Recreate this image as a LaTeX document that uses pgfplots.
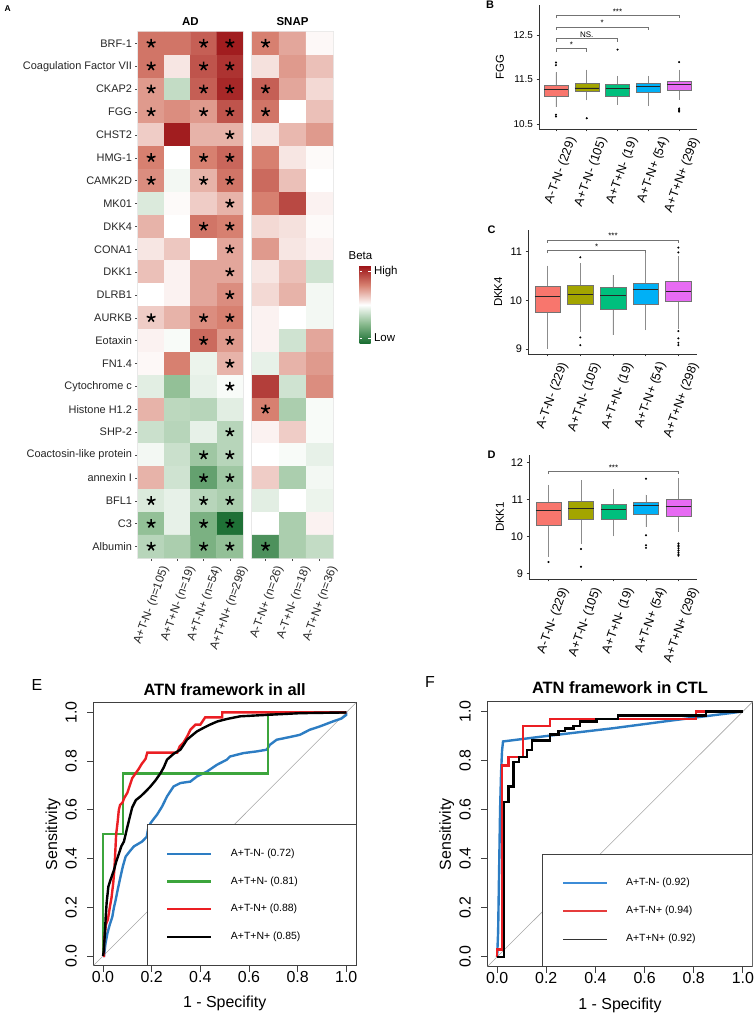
\documentclass[border=0pt]{standalone}
\usepackage{fontspec}
\setmainfont{Liberation Sans}
\usepackage{pgfplots}
\pgfplotsset{compat=1.18}
\usepgfplotslibrary{statistics}
\usetikzlibrary{plotmarks,calc}
\newcommand\fs[1]{\fontsize{#1}{#1}\selectfont}
\definecolor{gA}{HTML}{F8766D}
\definecolor{gB}{HTML}{A3A500}
\definecolor{gC}{HTML}{00BF7D}
\definecolor{gD}{HTML}{00B0F6}
\definecolor{gE}{HTML}{E76BF3}
\definecolor{rblue}{RGB}{45,125,195}
\definecolor{rgreen}{RGB}{60,165,60}
\definecolor{rred}{RGB}{235,30,35}
\definecolor{lblue}{RGB}{60,140,215}
\definecolor{lred}{RGB}{230,60,60}
\pgfplotsset{
  colormap={beta}{rgb255(0cm)=(20,105,45); rgb255(1cm)=(135,185,140); rgb255(2cm)=(255,255,255); rgb255(3cm)=(215,128,112); rgb255(4cm)=(155,18,22)},
  hm/.style={scale only axis, height=526bp, ymin=-0.5, ymax=22.5, y dir=reverse,
    colormap name=beta, point meta min=-1, point meta max=1,
    axis line style={black!9, line width=2.4bp},
    tick align=outside, major tick length=2.5bp, tick style={black!70, line width=0.5bp},
    xtick pos=bottom, ytick pos=left,
    xticklabel style={xshift=7bp, font=\fs{11.8}, rotate=70, anchor=north east, text=black!85},
    yticklabel style={font=\fs{11}, text=black!85}},
  bx/.style={scale only axis, height=124bp, axis x line*=bottom, axis y line*=left,
    axis line style={black!80, line width=0.6bp},
    tick align=outside, major tick length=2.5bp, tick style={black!80, line width=0.6bp},
    xtick={1,...,5},
    xticklabels={A-T-N- (229),A+T-N- (105),A+T+N- (19),A+T-N+ (54),A+T+N+ (298)},
    xticklabel style={xshift=9bp, font=\fs{12.5}, rotate=70, anchor=north east},
    ylabel style={font=\fs{11.5}},
    boxplot/draw direction=y, boxplot/box extend=0.78, boxplot/whisker extend=0,
    boxplot/every median/.style={black!85, line width=0.8bp},
    boxplot/every whisker/.style={black!45, line width=0.5bp},
    clip=false},
  bxs/.style={draw=black!55, line width=0.4bp, fill=#1, mark=*, mark size=0.8bp, mark options={fill=black,draw=black}},
  br/.style={black!55, line width=0.5bp},
  roc/.style={scale only axis, xmin=-0.04, xmax=1.04, ymin=-0.04, ymax=1.04,
    axis line style={black!75, line width=0.8bp},
    xtick={0,0.2,0.4,0.6,0.8,1}, ytick={0,0.2,0.4,0.6,0.8,1},
    xticklabels={0.0,0.2,0.4,0.6,0.8,1.0}, yticklabels={0.0,0.2,0.4,0.6,0.8,1.0},
    xtick pos=bottom, ytick pos=left, tick align=outside, major tick length=6bp,
    tick style={black!75, line width=0.8bp},
    xticklabel style={yshift=4bp, font=\fs{16}}, yticklabel style={xshift=-7bp, font=\fs{16}, rotate=90, anchor=south},
    xlabel={1 - Specifity}, ylabel={Sensitivity},
    label style={font=\fs{16}},
    ylabel style={at={(axis description cs:-0.153,0.5)}, anchor=center},
    title style={font=\bfseries\fs{16.5}, at={(0.5,1)}, anchor=center}},
}
\begin{document}
\begin{tikzpicture}
\useasboundingbox (0,0) rectangle (755bp,1015bp);
% ---------------- Panel A : heatmap ----------------
\begin{axis}[hm, at={(138bp,457bp)}, anchor=south west, width=105bp,
  xmin=-0.5, xmax=3.5, xtick={0,1,2,3},
  xticklabels={A+T-N- (n=105),A+T+N- (n=19),A+T-N+ (n=54),A+T+N+ (n=298)},
  ytick={0,...,22},
  yticklabels={BRF-1,Coagulation Factor VII,CKAP2,FGG,CHST2,HMG-1,CAMK2D,MK01,DKK4,CONA1,DKK1,DLRB1,AURKB,Eotaxin,FN1.4,Cytochrome c,Histone H1.2,SHP-2,Coactosin-like protein,annexin I,BFL1,C3,Albumin}]
\addplot[matrix plot*, mesh/cols=4, point meta=explicit] table[meta=v] {
x y v
0 0 0.55
1 0 0.55
2 0 0.65
3 0 0.95
0 1 0.55
1 1 0.10
2 1 0.70
3 1 0.85
0 2 0.40
1 2 -0.25
2 2 0.65
3 2 0.90
0 3 0.40
1 3 0.45
2 3 0.40
3 3 0.70
0 4 0.20
1 4 0.95
2 4 0.30
3 4 0.30
0 5 0.50
1 5 0.00
2 5 0.50
3 5 0.62
0 6 0.45
1 6 -0.05
2 6 0.30
3 6 0.55
0 7 -0.15
1 7 0.02
2 7 0.20
3 7 0.30
0 8 0.30
1 8 0.00
2 8 0.55
3 8 0.50
0 9 0.10
1 9 0.22
2 9 0.00
3 9 0.35
0 10 0.25
1 10 0.05
2 10 0.35
3 10 0.35
0 11 0.00
1 11 0.05
2 11 0.35
3 11 0.45
0 12 0.20
1 12 0.30
2 12 0.45
3 12 0.50
0 13 0.05
1 13 -0.03
2 13 0.60
3 13 0.40
0 14 0.03
1 14 0.50
2 14 -0.08
3 14 0.30
0 15 -0.12
1 15 -0.45
2 15 -0.10
3 15 -0.03
0 16 0.30
1 16 -0.28
2 16 -0.30
3 16 -0.12
0 17 -0.22
1 17 -0.30
2 17 -0.10
3 17 -0.30
0 18 -0.05
1 18 -0.22
2 18 -0.40
3 18 -0.30
0 19 0.30
1 19 -0.20
2 19 -0.65
3 19 -0.40
0 20 -0.15
1 20 -0.10
2 20 -0.30
3 20 -0.35
0 21 -0.45
1 21 -0.10
2 21 -0.55
3 21 -0.95
0 22 -0.30
1 22 -0.35
2 22 -0.55
3 22 -0.45
};
\addplot[only marks, mark=star, mark size=4.6bp, mark options={line width=1.6bp, draw=black}] coordinates {
(0,0)(2,0)(3,0) (0,1)(2,1)(3,1) (0,2)(2,2)(3,2) (0,3)(2,3)(3,3) (3,4)
(0,5)(2,5)(3,5) (0,6)(2,6)(3,6) (3,7) (2,8)(3,8) (3,9) (3,10) (3,11)
(0,12)(2,12)(3,12) (2,13)(3,13) (3,14) (3,15) (3,17) (2,18)(3,18) (2,19)(3,19)
(0,20)(2,20)(3,20) (0,21)(2,21)(3,21) (0,22)(2,22)(3,22)};
\end{axis}
\begin{axis}[hm, at={(252bp,457bp)}, anchor=south west, width=81bp,
  xmin=-0.5, xmax=2.5, xtick={0,1,2}, ytick=\empty,
  xticklabels={A-T-N+ (n=26),A-T+N- (n=18),A-T+N+ (n=36)},
  colorbar,
  colorbar style={at={($(parent axis.north east)+(18bp,-233.5bp)$)}, anchor=north west,
    width=11bp, height=78.5bp, ytick={-0.85,0.85}, yticklabels={Low,High},
    yticklabel style={font=\fs{11.5}, rotate=0, anchor=west}, axis line style={draw=none},
    major tick length=2.5bp, tick style={white, line width=0.8bp},
    ytick pos=both, yticklabel pos=right, tick align=inside}]
\addplot[matrix plot*, mesh/cols=3, point meta=explicit] table[meta=v] {
x y v
0 0 0.50
1 0 0.35
2 0 0.03
0 1 0.12
1 1 0.40
2 1 0.25
0 2 0.65
1 2 0.35
2 2 0.15
0 3 0.55
1 3 0.00
2 3 0.25
0 4 0.10
1 4 0.28
2 4 0.40
0 5 0.50
1 5 0.10
2 5 0.02
0 6 0.60
1 6 0.25
2 6 0.00
0 7 0.50
1 7 0.75
2 7 0.05
0 8 0.15
1 8 0.12
2 8 0.02
0 9 0.40
1 9 0.10
2 9 0.05
0 10 0.10
1 10 0.25
2 10 -0.20
0 11 0.15
1 11 0.30
2 11 -0.05
0 12 0.05
1 12 0.00
2 12 -0.05
0 13 0.05
1 13 -0.20
2 13 0.35
0 14 -0.10
1 14 0.30
2 14 0.40
0 15 0.80
1 15 -0.20
2 15 0.45
0 16 0.50
1 16 -0.35
2 16 -0.03
0 17 0.05
1 17 0.20
2 17 -0.03
0 18 0.00
1 18 -0.03
2 18 -0.10
0 19 0.20
1 19 -0.35
2 19 -0.05
0 20 -0.12
1 20 0.00
2 20 -0.08
0 21 0.00
1 21 -0.35
2 21 0.05
0 22 -0.75
1 22 -0.35
2 22 -0.25
};
\addplot[only marks, mark=star, mark size=4.6bp, mark options={line width=1.6bp, draw=black}] coordinates {
(0,0) (0,2) (0,3) (0,16) (0,22)};
\end{axis}
\node[font=\bfseries\fs{8.5}, anchor=north west] at (1bp,1013bp) {A};
\node[font=\bfseries\fs{11.5}] at (190.5bp,993.3bp) {AD};
\node[font=\bfseries\fs{11.5}] at (292.5bp,993.3bp) {SNAP};
\node[font=\fs{11.5}, anchor=west, inner sep=0pt] at (348.5bp,759bp) {Beta};
% ---------------- Panel B ----------------
\begin{axis}[bx, at={(539bp,886bp)}, anchor=south west, width=158bp,
  xmin=0.45, xmax=5.58, ymin=10.39, ymax=13.17,
  ytick={10.5,11.5,12.5}, yticklabels={10.5,11.5,12.5}, yticklabel style={font=\fs{10}},
  ylabel={FGG}, ylabel style={at={(axis description cs:-0.247,0.5)}, anchor=center}]
\addplot[bxs=gA, boxplot prepared={draw position=1, lower whisker=10.88, lower quartile=11.12, median=11.28, upper quartile=11.38, upper whisker=11.66}] table[row sep=\\,y index=0] {v\\ 11.82\\ 11.88\\ 10.71\\ 10.67\\};
\addplot[bxs=gB, boxplot prepared={draw position=2, lower whisker=11.03, lower quartile=11.23, median=11.31, upper quartile=11.42, upper whisker=11.72}] table[row sep=\\,y index=0] {v\\ 10.63\\};
\addplot[bxs=gC, boxplot prepared={draw position=3, lower whisker=10.93, lower quartile=11.12, median=11.30, upper quartile=11.39, upper whisker=11.58}] table[row sep=\\,y index=0] {v\\ 12.17\\};
\addplot[bxs=gD, boxplot prepared={draw position=4, lower whisker=10.90, lower quartile=11.21, median=11.34, upper quartile=11.41, upper whisker=11.58}] coordinates {};
\addplot[bxs=gE, boxplot prepared={draw position=5, lower whisker=11.04, lower quartile=11.27, median=11.39, upper quartile=11.46, upper whisker=11.72}] table[row sep=\\,y index=0] {v\\ 11.89\\ 10.85\\ 10.82\\ 10.80\\ 10.78\\};
\addplot[br] coordinates {(1,12.12) (1,12.19) (2,12.19) (2,12.12)};
\addplot[br] coordinates {(1,12.35) (1,12.42) (3,12.42) (3,12.35)};
\addplot[br] coordinates {(1,12.61) (1,12.68) (4,12.68) (4,12.61)};
\addplot[br] coordinates {(1,12.87) (1,12.94) (5,12.94) (5,12.87)};
\node[font=\fs{8}, anchor=south, inner sep=1bp] at (axis cs:1.5,12.19) {*};
\node[font=\fs{8}, anchor=south, inner sep=1bp] at (axis cs:2,12.42) {NS.};
\node[font=\fs{8}, anchor=south, inner sep=1bp] at (axis cs:2.5,12.68) {*};
\node[font=\fs{8}, anchor=south, inner sep=1bp] at (axis cs:3,12.94) {***};
\end{axis}
\node[font=\bfseries\fs{11}] at (490bp,1010bp) {B};
% ---------------- Panel C ----------------
\begin{axis}[bx, at={(528bp,661bp)}, anchor=south west, width=169bp,
  xmin=0.4, xmax=5.57, ymin=8.9, ymax=11.44,
  ytick={9,10,11}, yticklabels={9,10,11}, yticklabel style={font=\fs{11}},
  ylabel={DKK4}, ylabel style={at={(axis description cs:-0.176,0.5)}, anchor=center}]
\addplot[bxs=gA, boxplot prepared={draw position=1, lower whisker=9.01, lower quartile=9.76, median=10.07, upper quartile=10.29, upper whisker=10.71}] coordinates {};
\addplot[bxs=gB, boxplot prepared={draw position=2, lower whisker=9.35, lower quartile=9.91, median=10.12, upper quartile=10.31, upper whisker=10.76}] table[row sep=\\,y index=0] {v\\ 10.88\\ 9.24\\ 9.08\\};
\addplot[bxs=gC, boxplot prepared={draw position=3, lower whisker=9.29, lower quartile=9.81, median=10.10, upper quartile=10.27, upper whisker=10.52}] coordinates {};
\addplot[bxs=gD, boxplot prepared={draw position=4, lower whisker=9.39, lower quartile=9.92, median=10.22, upper quartile=10.34, upper whisker=11.00}] coordinates {};
\addplot[bxs=gE, boxplot prepared={draw position=5, lower whisker=9.42, lower quartile=9.98, median=10.19, upper quartile=10.39, upper whisker=10.90}] table[row sep=\\,y index=0] {v\\ 11.08\\ 10.98\\ 9.37\\ 9.22\\ 9.13\\ 9.08\\};
\addplot[br] coordinates {(1,10.96) (1,11.02) (4,11.02) (4,10.96)};
\addplot[br] coordinates {(1,11.18) (1,11.24) (5,11.24) (5,11.18)};
\node[font=\fs{8}, anchor=south, inner sep=1bp] at (axis cs:2.5,11.02) {*};
\node[font=\fs{8}, anchor=south, inner sep=1bp] at (axis cs:3,11.24) {***};
\end{axis}
\node[font=\bfseries\fs{11}] at (491.7bp,785bp) {C};
% ---------------- Panel D ----------------
\begin{axis}[bx, at={(529bp,436bp)}, anchor=south west, width=168bp,
  xmin=0.4, xmax=5.57, ymin=8.85, ymax=12.2,
  ytick={9,10,11,12}, yticklabels={9,10,11,12}, yticklabel style={font=\fs{11}},
  ylabel={DKK1}, ylabel style={at={(axis description cs:-0.173,0.5)}, anchor=center}]
\addplot[bxs=gA, boxplot prepared={draw position=1, lower whisker=9.45, lower quartile=10.29, median=10.69, upper quartile=10.93, upper whisker=11.39}] table[row sep=\\,y index=0] {v\\ 9.31\\};
\addplot[bxs=gB, boxplot prepared={draw position=2, lower whisker=9.80, lower quartile=10.46, median=10.76, upper quartile=10.96, upper whisker=11.52}] table[row sep=\\,y index=0] {v\\ 9.66\\ 9.18\\};
\addplot[bxs=gC, boxplot prepared={draw position=3, lower whisker=10.00, lower quartile=10.46, median=10.73, upper quartile=10.86, upper whisker=11.28}] coordinates {};
\addplot[bxs=gD, boxplot prepared={draw position=4, lower whisker=10.26, lower quartile=10.60, median=10.84, upper quartile=10.93, upper whisker=11.13}] table[row sep=\\,y index=0] {v\\ 11.56\\ 10.03\\ 9.76\\ 9.69\\};
\addplot[bxs=gE, boxplot prepared={draw position=5, lower whisker=10.12, lower quartile=10.55, median=10.80, upper quartile=11.00, upper whisker=11.57}] table[row sep=\\,y index=0] {v\\ 9.81\\ 9.76\\ 9.72\\ 9.67\\ 9.62\\ 9.57\\ 9.52\\ 9.48\\};
\addplot[br] coordinates {(1,11.68) (1,11.76) (5,11.76) (5,11.68)};
\node[font=\fs{8}, anchor=south, inner sep=1bp] at (axis cs:3,11.76) {***};
\end{axis}
\node[font=\bfseries\fs{11}] at (491.7bp,560bp) {D};
% ---------------- Panel E ----------------
\begin{axis}[roc, at={(93.3bp,49.3bp)}, anchor=south west, width=262.7bp, height=263bp,
  title={ATN framework in all}, title style={yshift=7bp},
  xlabel style={at={(axis description cs:0.5,-0.143)}, anchor=center}]
\addplot[black!35, line width=0.6bp] coordinates {(-0.04,-0.04) (1.04,1.04)};
\addplot[rblue, line width=2.4bp] coordinates {
(0,0) (0.004,0) (0.010,0.05) (0.018,0.093) (0.028,0.13) (0.038,0.16) (0.045,0.20) (0.052,0.23)
(0.062,0.28) (0.072,0.326) (0.082,0.37) (0.093,0.408) (0.110,0.43) (0.127,0.45) (0.161,0.47)
(0.180,0.49) (0.185,0.52) (0.195,0.545) (0.210,0.565) (0.222,0.58) (0.243,0.614) (0.263,0.655)
(0.290,0.696) (0.318,0.71) (0.359,0.716) (0.386,0.737) (0.427,0.757) (0.468,0.785) (0.509,0.806)
(0.522,0.819) (0.577,0.833) (0.632,0.84) (0.673,0.847) (0.686,0.867) (0.714,0.888) (0.768,0.899)
(0.809,0.908) (0.850,0.929) (0.890,0.942) (0.945,0.963) (0.980,0.975) (1,0.99) (1,1)};
\addplot[rgreen, line width=2.4bp] coordinates {
(0,0) (0,0.5) (0.083,0.5) (0.083,0.75) (0.677,0.75) (0.677,1) (1,1)};
\addplot[rred, line width=2.4bp] coordinates {
(0,0) (0.004,0) (0.004,0.06) (0.012,0.13) (0.020,0.15) (0.028,0.20) (0.035,0.24) (0.042,0.30)
(0.047,0.36) (0.050,0.42) (0.054,0.50) (0.060,0.55) (0.065,0.60) (0.070,0.62) (0.080,0.63)
(0.088,0.65) (0.100,0.67) (0.110,0.70) (0.120,0.73) (0.134,0.75) (0.148,0.77) (0.160,0.79)
(0.168,0.80) (0.175,0.81) (0.182,0.835) (0.305,0.835) (0.315,0.86) (0.330,0.875) (0.345,0.90)
(0.360,0.93) (0.380,0.95) (0.400,0.95) (0.410,0.965) (0.420,0.98) (0.490,0.98) (0.490,1) (1,1)};
\addplot[black, line width=2.4bp] coordinates {
(0,0) (0.003,0.02) (0.008,0.10) (0.011,0.16) (0.015,0.22) (0.022,0.285) (0.030,0.31) (0.045,0.353)
(0.055,0.39) (0.066,0.422) (0.075,0.45) (0.086,0.47) (0.093,0.50) (0.100,0.53) (0.110,0.57)
(0.120,0.61) (0.135,0.64) (0.154,0.655) (0.175,0.675) (0.195,0.696) (0.215,0.72) (0.236,0.75)
(0.250,0.775) (0.263,0.806) (0.290,0.83) (0.318,0.847) (0.330,0.865) (0.345,0.888) (0.365,0.905)
(0.386,0.922) (0.410,0.935) (0.440,0.95) (0.470,0.963) (0.509,0.973) (0.563,0.984) (0.673,0.99)
(0.810,0.997) (1,1)};
\draw[black!75, fill=white, line width=0.8bp] (axis cs:0.182,-0.04) rectangle (axis cs:1.04,0.541);
\draw[rblue, line width=2.4bp] (axis cs:0.263,0.419) -- (axis cs:0.444,0.419);
\draw[rgreen, line width=2.4bp] (axis cs:0.263,0.305) -- (axis cs:0.444,0.305);
\draw[rred, line width=2.4bp] (axis cs:0.263,0.192) -- (axis cs:0.444,0.192);
\draw[black, line width=2.4bp] (axis cs:0.263,0.077) -- (axis cs:0.444,0.077);
\node[font=\fs{10.5}, anchor=west, inner sep=0pt] at (axis cs:0.525,0.419) {A+T-N- (0.72)};
\node[font=\fs{10.5}, anchor=west, inner sep=0pt] at (axis cs:0.525,0.305) {A+T+N- (0.81)};
\node[font=\fs{10.5}, anchor=west, inner sep=0pt] at (axis cs:0.525,0.192) {A+T-N+ (0.88)};
\node[font=\fs{10.5}, anchor=west, inner sep=0pt] at (axis cs:0.525,0.077) {A+T+N+ (0.85)};
\end{axis}
\node[font=\fs{16}] at (37bp,330bp) {E};
% ---------------- Panel F ----------------
\begin{axis}[roc, at={(487.3bp,48.3bp)}, anchor=south west, width=265.4bp, height=265bp,
  title={ATN framework in CTL}, title style={yshift=7.7bp},
  xlabel style={at={(axis description cs:0.5,-0.147)}, anchor=center}]
\addplot[black!35, line width=0.6bp] coordinates {(-0.04,-0.04) (1.04,1.04)};
\addplot[rblue, line width=2.4bp] coordinates {
(0,0) (0.004,0.10) (0.008,0.35) (0.012,0.60) (0.016,0.75) (0.020,0.84) (0.024,0.878)
(0.200,0.90) (0.473,0.932) (0.700,0.962) (0.850,0.981) (1,1)};
\addplot[rred, line width=2.4bp] coordinates {
(0,0) (0,0.03) (0.02,0.03) (0.02,0.78) (0.047,0.78) (0.047,0.814) (0.105,0.814) (0.105,0.94)
(0.216,0.94) (0.216,0.97) (0.81,0.97) (0.81,1.0) (1,1)};
\addplot[black, line width=2.4bp] coordinates {
(0,0) (0.028,0) (0.028,0.63) (0.047,0.63) (0.047,0.695) (0.067,0.695) (0.067,0.794) (0.088,0.794)
(0.088,0.814) (0.122,0.814) (0.122,0.844) (0.142,0.844) (0.142,0.882) (0.216,0.882) (0.216,0.906)
(0.25,0.906) (0.25,0.92) (0.277,0.92) (0.277,0.93) (0.31,0.93) (0.31,0.94) (0.338,0.94)
(0.338,0.96) (0.405,0.96) (0.405,0.97) (0.493,0.97) (0.493,0.984) (0.851,0.984) (0.851,1) (1,1)};
\draw[black!75, fill=white, line width=0.8bp] (axis cs:0.185,-0.04) rectangle (axis cs:1.04,0.418);
\draw[lblue, line width=1.4bp] (axis cs:0.27,0.301) -- (axis cs:0.446,0.301);
\draw[lred, line width=1.4bp] (axis cs:0.27,0.187) -- (axis cs:0.446,0.187);
\draw[black!80, line width=1.4bp] (axis cs:0.27,0.072) -- (axis cs:0.446,0.072);
\node[font=\fs{10.5}, anchor=west, inner sep=0pt] at (axis cs:0.524,0.301) {A+T-N- (0.92)};
\node[font=\fs{10.5}, anchor=west, inner sep=0pt] at (axis cs:0.524,0.187) {A+T-N+ (0.94)};
\node[font=\fs{10.5}, anchor=west, inner sep=0pt] at (axis cs:0.524,0.072) {A+T+N+ (0.92)};
\end{axis}
\node[font=\fs{16}] at (430bp,333bp) {F};
\end{tikzpicture}
\end{document}
